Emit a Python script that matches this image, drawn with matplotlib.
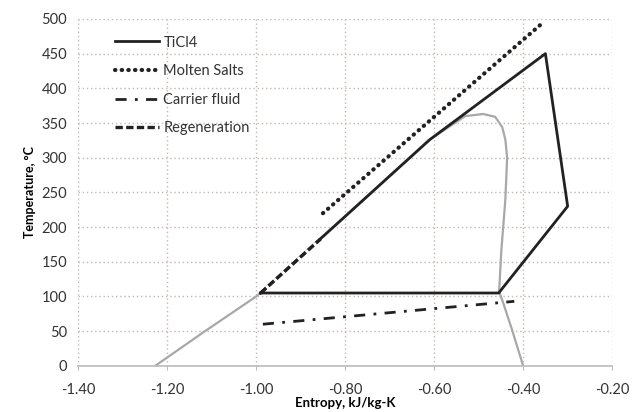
import numpy as np
import matplotlib.pyplot as plt

plt.rcParams['font.family'] = ['Lato', 'DejaVu Sans']

# TiCl4 cycle (entropy kJ/kg-K, temperature C)
ticl4_s = [-0.99, -0.61, -0.35, -0.30, -0.455, -0.99]
ticl4_t = [105, 326, 450, 230, 105, 105]

# molten salts
salt_s = [-0.85, -0.355]
salt_t = [220, 495]

# carrier fluid
carrier_s = [-0.985, -0.42]
carrier_t = [60, 93]

# regeneration
regen_s = [-0.99, -0.855]
regen_t = [105, 183]

# saturation dome (grey)
dome_s = [-1.227, -1.115, -1.0, -0.8, -0.61, -0.53, -0.49, -0.463, -0.447,
          -0.44, -0.436, -0.44, -0.449, -0.454, -0.445, -0.425, -0.40]
dome_t = [0, 50, 100, 215, 326, 360, 363, 359, 344,
          326, 300, 240, 167, 107, 91, 52, 0]

xticks = [-1.40, -1.20, -1.00, -0.80, -0.60, -0.40, -0.20]
yticks = [0, 50, 100, 150, 200, 250, 300, 350, 400, 450, 500]

fig = plt.figure(figsize=(6.41, 4.12), dpi=100)
ax = fig.add_axes([0.122, 0.112, 0.833, 0.842])

ax.plot(dome_s, dome_t, color='#a8a8a8', lw=1.6, zorder=2)
ax.plot(ticl4_s, ticl4_t, color='#222222', lw=2.0, label='TiCl4', zorder=3)
ax.plot(salt_s, salt_t, color='#222222', lw=3.0, linestyle=(0, (0.1, 1.5)),
        dash_capstyle='round', label='Molten Salts', zorder=3)
ax.plot(carrier_s, carrier_t, color='#222222', lw=2.0,
        linestyle=(0, (4, 3, 1, 3)), label='Carrier fluid', zorder=3)
ax.plot(regen_s, regen_t, color='#222222', lw=2.4, linestyle=(0, (2.2, 1.0)),
        gapcolor='white', label='Regeneration', zorder=4)

ax.set_xlim(-1.40, -0.20)
ax.set_ylim(0, 500)
ax.set_xticks(xticks)
ax.set_xticklabels(['%.2f' % v for v in xticks])
ax.set_yticks(yticks)

ax.grid(True, color='#c4b8b0', linestyle=(0, (1, 2)), lw=1.0)
ax.set_axisbelow(True)
for side in ['top', 'right', 'left']:
    ax.spines[side].set_visible(False)
ax.spines['bottom'].set_color('#bbbbbb')
ax.spines['bottom'].set_linewidth(1.2)
ax.tick_params(axis='x', length=3, color='#bbbbbb', labelsize=10.5,
               labelcolor='#333333', pad=9)
ax.tick_params(axis='y', length=0, labelsize=10.5, labelcolor='#333333', pad=8)

ax.set_xlabel('Entropy, kJ/kg-K', fontsize=9.5, fontweight='bold', labelpad=0)
ax.set_ylabel('Temperature, \u00b0C', fontsize=9, fontweight='bold', labelpad=4)

leg = ax.legend(loc='upper left', bbox_to_anchor=(0.045, 0.99), frameon=False,
                fontsize=10.5, handlelength=3.0, handletextpad=0.3,
                labelspacing=1.0)
for t in leg.get_texts():
    t.set_color('#333333')

fig.savefig('out.png', dpi=100)
